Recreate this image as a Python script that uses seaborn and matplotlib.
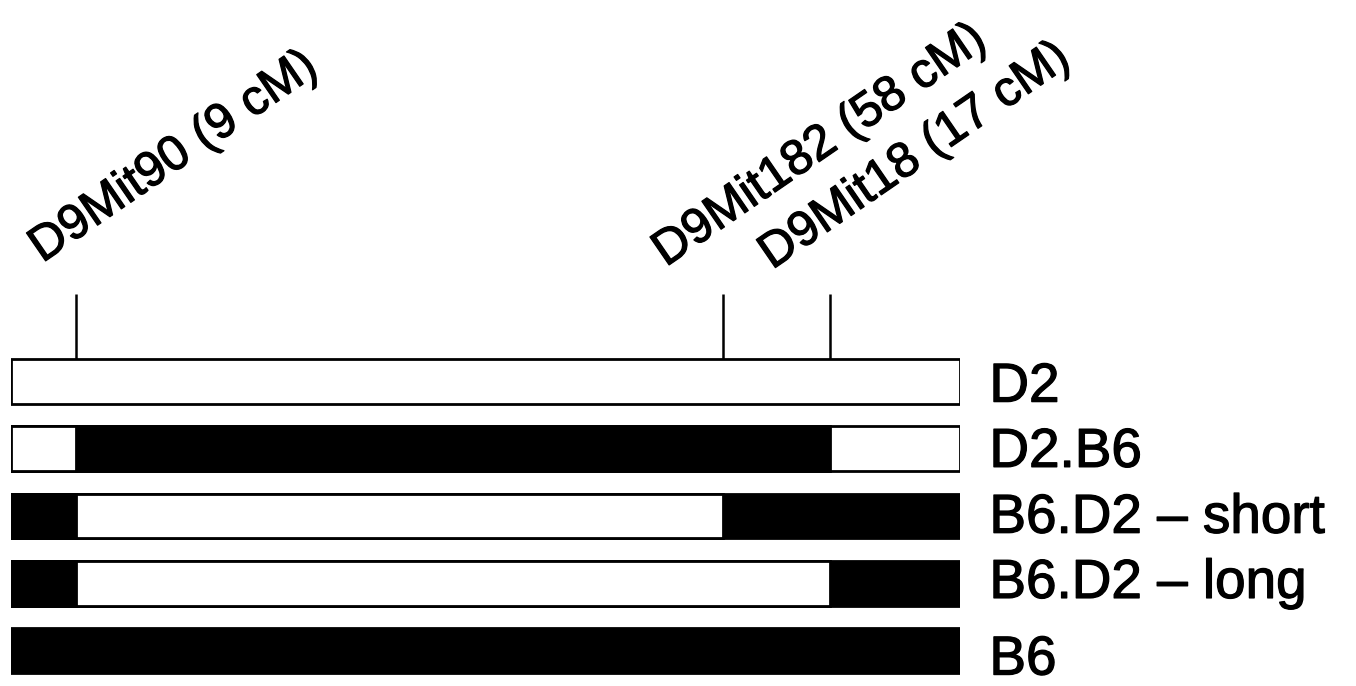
import matplotlib
matplotlib.use("Agg")
import matplotlib.pyplot as plt
import matplotlib.patheffects as pe
import pandas as pd
import seaborn as sns

# Strains (top to bottom) and their chromosome 9 haplotype segments.
strains = ["D2", "D2.B6", "B6.D2 \u2013 short", "B6.D2 \u2013 long", "B6"]
# Segment boundaries along the chromosome (relative units, 0-100)
seg_ends = [
    [100.0],
    [6.9, 86.3, 100.0],
    [6.9, 75.0, 100.0],
    [6.9, 86.3, 100.0],
    [100.0],
]
seg_alleles = [
    ["D2"],
    ["D2", "B6", "D2"],
    ["B6", "D2", "B6"],
    ["B6", "D2", "B6"],
    ["B6"],
]

# Microsatellite markers
marker_names = ["D9Mit90 (9 cM)", "D9Mit182 (58 cM)", "D9Mit18 (17 cM)"]
marker_pos = [6.9, 75.0, 86.3]

allele_colors = {"D2": "white", "B6": "black"}

# Build layered segment table: each strain is drawn as overlapping bars,
# longest first, so every segment shows its own colour.
rows = []
for s, ends, alleles in zip(strains, seg_ends, seg_alleles):
    for layer, (e, a) in enumerate(zip(reversed(ends), reversed(alleles))):
        rows.append({"strain": s, "end": e, "allele": a, "layer": layer})
segments = pd.DataFrame(rows)

sns.set_theme(style="white")
plt.rcParams["font.family"] = ["Liberation Sans", "DejaVu Sans"]

fig = plt.figure(figsize=(13.56, 6.86), dpi=100)
ax = fig.add_axes([11 / 1356, 0.0, 949 / 1356, 1.0])

for layer in sorted(segments["layer"].unique()):
    sub = segments[segments["layer"] == layer]
    sns.barplot(
        data=sub, x="end", y="strain", hue="allele", order=strains,
        palette=allele_colors, hue_order=["D2", "B6"], dodge=False,
        orient="h", width=0.665, edgecolor="black", linewidth=2,
        errorbar=None, legend=False, ax=ax,
    )

ax.set_xlim(0, 100)
ax.set_ylim(4.53, -5.675)
ax.set_axis_off()

# slightly heavier glyph strokes
heavy = [pe.withStroke(linewidth=0.9, foreground="black")]

# Marker ticks above the first chromosome and their rotated labels
bar_top = -0.665 / 2
tick_top = -1.30
label_dx = [-3.6, -6.0, -6.1]
label_y = [-1.76, -1.70, -1.66]
for name, pos, dx, ly in zip(marker_names, marker_pos, label_dx, label_y):
    ax.plot([pos, pos], [bar_top, tick_top], color="black", lw=1.8,
            clip_on=False, solid_capstyle="butt")
    ax.text(pos + dx, ly, name, rotation=34.5, rotation_mode="anchor",
            ha="left", va="baseline", fontsize=35.5, color="black",
            path_effects=heavy)

# Strain names to the right of each chromosome (baseline offsets)
name_baseline = [0.30, 0.27, 0.25, 0.22, 0.36]
for i, (s, b) in enumerate(zip(strains, name_baseline)):
    ax.text(103.1, i + b, s, ha="left", va="baseline", fontsize=39.5,
            color="black", clip_on=False, path_effects=heavy)

fig.savefig("out.png", dpi=100, facecolor="white")
